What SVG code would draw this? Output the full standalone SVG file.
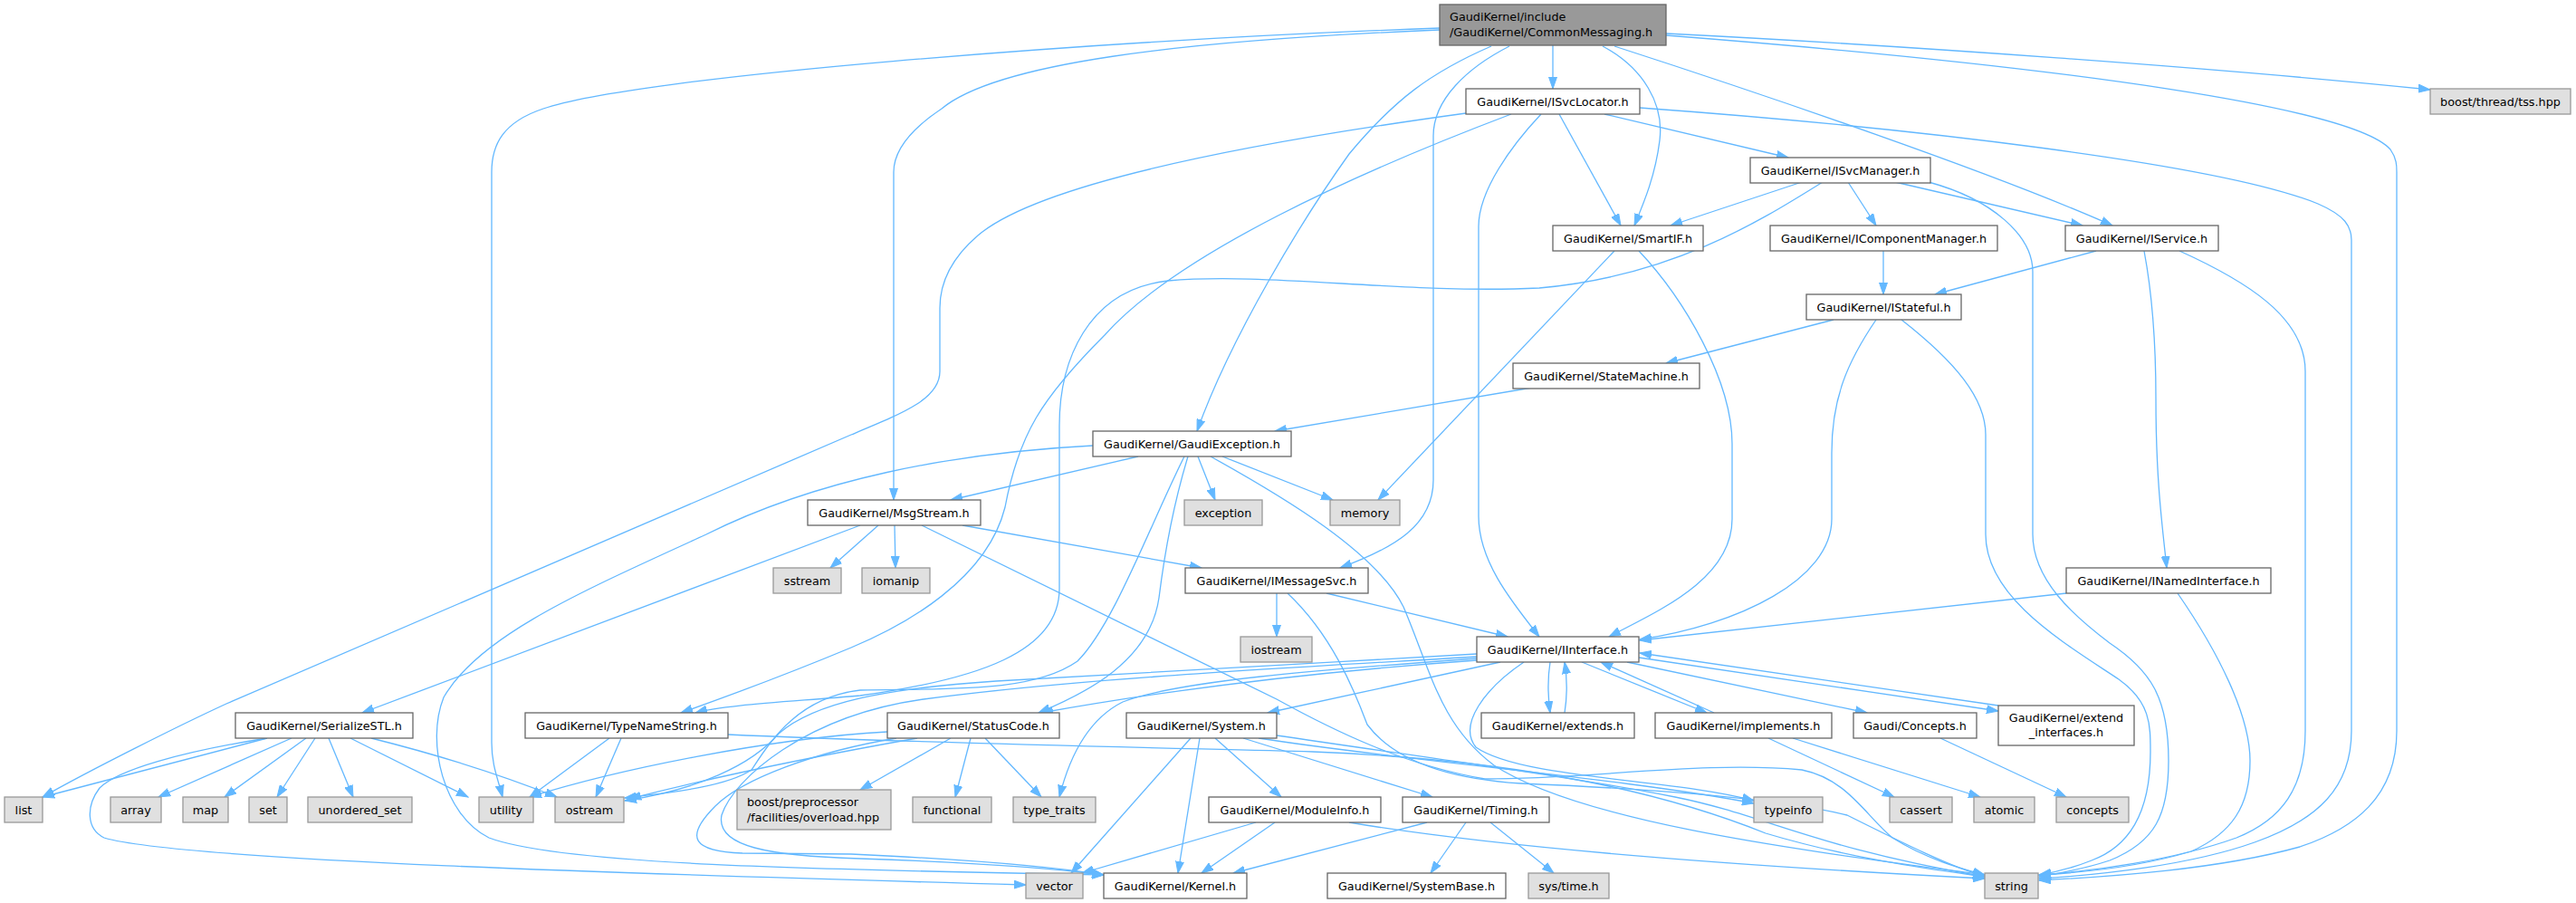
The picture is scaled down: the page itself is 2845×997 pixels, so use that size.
<svg xmlns="http://www.w3.org/2000/svg" width="2845" height="997" viewBox="0 0 2845 997">
<style>
.n rect{fill:#fff;stroke:#666;stroke-width:1.3}
.x rect{fill:#e0e0e0;stroke:#999;stroke-width:1.3}
.r rect{fill:#999;stroke:#666;stroke-width:1.3}
text{font-family:"DejaVu Sans","Liberation Sans",sans-serif;font-size:12.8px;fill:#000;text-anchor:middle}
.l{text-anchor:start}
#edges path{fill:none;stroke:#63b8ff;stroke-width:1.3;marker-end:url(#a)}
</style>
<defs>
<marker id="a" markerUnits="userSpaceOnUse" markerWidth="14" markerHeight="10" viewBox="0 0 14 10" refX="13" refY="5" orient="auto">
<path d="M0,0.5 L13,5 L0,9.5 z" fill="#63b8ff" stroke="#63b8ff"/>
</marker>
</defs>
<rect width="2845" height="997" fill="#fff"/>
<g id="edges">
<path d="M1715,50 L1715,98"/>
<path d="M1770,51 C1815,75 1838,115 1833,155 C1828,195 1815,225 1805,249"/>
<path d="M1783,51 C1950,105 2200,190 2333,249"/>
<path d="M1840,37 C2100,50 2450,75 2684,99"/>
<path d="M1840,39 C2300,75 2600,120 2640,165 C2647,175 2647,183 2647,190 L2647,807 C2647,880 2600,915 2540,935 C2450,960 2330,968 2252,972"/>
<path d="M1590,31 C1200,45 700,85 600,120 C555,135 543,160 543,190 L543,820 C543,845 550,860 555,880"/>
<path d="M1590,33 C1300,45 1100,70 1040,120 C995,150 987,175 987,190 L987,552"/>
<path d="M1647,51 C1580,80 1540,110 1490,170 C1440,240 1360,370 1322,476"/>
<path d="M1667,51 C1620,75 1583,110 1583,150 L1583,530 C1583,580 1540,605 1480,627"/>
<path d="M1722,126 L1790,249"/>
<path d="M1772,126 L1975,174"/>
<path d="M1811,119 C2100,140 2450,180 2560,225 C2590,238 2597,250 2597,265 L2597,807 C2597,870 2560,905 2490,930 C2420,955 2320,966 2252,970"/>
<path d="M1702,126 C1670,160 1633,210 1633,250 L1633,570 C1633,620 1670,665 1700,703"/>
<path d="M1619,125 C1400,155 1150,200 1080,260 C1045,290 1038,320 1038,340 L1038,410 C1038,440 1000,455 940,480 L250,777 C200,800 100,850 47,880"/>
<path d="M1669,126 C1500,190 1300,280 1220,370 C1150,440 1125,480 1110,560 C1090,640 1000,690 940,715 C880,740 800,770 752,787"/>
<path d="M1990,201 L1845,249"/>
<path d="M2013,201 C1950,240 1850,305 1700,318 C1550,325 1400,300 1290,310 C1200,320 1170,400 1170,470 L1170,650 C1170,720 1080,750 950,768 C870,775 800,778 768,787"/>
<path d="M2041,201 L2072,249"/>
<path d="M2093,201 L2300,249"/>
<path d="M2130,201 C2200,220 2245,260 2245,300 L2245,590 C2245,640 2290,680 2330,710 C2375,740 2395,770 2395,840 C2395,900 2380,930 2330,950 C2300,960 2270,965 2252,968"/>
<path d="M2315,277 L2137,325"/>
<path d="M2368,277 C2378,330 2381,380 2381,440 C2381,530 2388,580 2393,627"/>
<path d="M2407,277 C2480,310 2546,350 2546,410 L2546,807 C2546,870 2520,905 2470,925 C2400,950 2310,962 2252,966"/>
<path d="M2080,277 L2080,325"/>
<path d="M2025,353 L1840,401"/>
<path d="M2072,353 C2040,400 2023,440 2023,500 L2023,573 C2023,640 1920,690 1811,706"/>
<path d="M2100,353 C2160,400 2193,440 2193,480 L2193,590 C2193,660 2280,710 2340,750 C2375,775 2375,800 2375,830 C2375,900 2350,935 2310,950 C2290,958 2270,963 2252,966"/>
<path d="M1692,428 L1408,476"/>
<path d="M1783,277 L1522,552"/>
<path d="M1810,277 C1860,330 1913,420 1913,490 L1913,573 C1913,640 1830,675 1777,703"/>
<path d="M1257,504 L1050,552"/>
<path d="M1323,504 L1342,552"/>
<path d="M1350,504 L1472,552"/>
<path d="M1337,504 C1420,550 1520,610 1550,670 C1580,740 1590,800 1650,845 C1750,910 2000,940 2192,966"/>
<path d="M1312,504 C1295,560 1285,620 1280,660 C1270,730 1200,765 1147,787"/>
<path d="M1308,504 C1270,580 1230,690 1190,730 C1140,765 1050,760 950,762 C880,770 850,820 830,850 C800,870 730,876 690,881"/>
<path d="M1207,492 C1050,500 900,530 780,590 C650,650 530,700 490,770 C470,820 490,900 540,925 C620,955 900,960 1219,966"/>
<path d="M950,580 L400,787"/>
<path d="M970,580 L917,627"/>
<path d="M988,580 L989,627"/>
<path d="M1063,580 L1327,627"/>
<path d="M1018,580 L1410,772 C1470,805 1550,845 1640,860 C1760,860 1880,840 1990,850 C2040,860 2060,900 2090,925 C2130,950 2170,960 2192,966"/>
<path d="M1410,655 L1410,703"/>
<path d="M1465,655 L1665,703"/>
<path d="M1422,655 C1470,700 1495,760 1510,800 C1540,840 1600,860 1680,865 C1800,870 1960,880 2040,900 C2100,930 2160,960 2192,967"/>
<path d="M2282,655 L1811,707"/>
<path d="M2405,655 C2450,720 2485,790 2485,840 C2485,890 2465,920 2420,940 C2360,958 2290,964 2252,966"/>
<path d="M1712,731 C1709,750 1709,765 1712,787"/>
<path d="M1728,787 C1731,768 1731,750 1728,731"/>
<path d="M1747,731 L1885,787"/>
<path d="M1893,787 L1768,731"/>
<path d="M1797,731 L2062,787"/>
<path d="M1810,726 L2207,785"/>
<path d="M2207,779 L1811,721"/>
<path d="M1657,731 L1400,787"/>
<path d="M1631,729 C1450,742 1300,760 1150,787"/>
<path d="M1631,727 C1450,740 1300,752 1240,775 C1200,795 1180,840 1170,880"/>
<path d="M1631,722 C1450,733 1250,742 1100,752 C980,760 900,775 860,810 C830,845 770,872 690,884"/>
<path d="M1683,731 C1640,760 1610,800 1630,825 C1680,860 1850,860 1937,884"/>
<path d="M1631,725 C1450,736 1200,748 1020,772 C890,790 810,860 797,900 C790,935 850,945 950,948 C1070,952 1160,958 1219,966"/>
<path d="M1315,815 L1183,964"/>
<path d="M1325,815 L1301,964"/>
<path d="M1342,815 L1415,880"/>
<path d="M1373,815 L1582,880"/>
<path d="M1390,815 C1550,840 1800,860 1937,887"/>
<path d="M1410,812 C1600,840 1750,860 1850,880 C1950,900 2000,935 2192,968"/>
<path d="M1387,908 L1195,964"/>
<path d="M1408,908 L1327,964"/>
<path d="M1490,908 C1650,935 1900,955 2192,970"/>
<path d="M1576,908 L1362,964"/>
<path d="M1619,908 L1580,964"/>
<path d="M1646,908 L1716,964"/>
<path d="M1050,815 L950,872"/>
<path d="M1072,815 L1055,880"/>
<path d="M1088,815 L1150,880"/>
<path d="M980,808 C850,815 680,850 585,880"/>
<path d="M1013,815 C900,835 780,860 695,882"/>
<path d="M990,815 C900,830 820,860 790,890 C755,925 765,940 820,942 L940,943 C1050,948 1150,955 1219,966"/>
<path d="M673,815 L585,880"/>
<path d="M686,815 L658,880"/>
<path d="M804,811 C1000,820 1300,826 1450,830 C1700,840 1850,880 1950,920 C2050,950 2150,962 2192,968"/>
<path d="M295,815 L47,880"/>
<path d="M322,815 L175,880"/>
<path d="M338,815 L248,880"/>
<path d="M348,815 L306,880"/>
<path d="M363,815 L390,880"/>
<path d="M387,815 L517,880"/>
<path d="M410,815 C470,830 540,850 615,880"/>
<path d="M295,815 C200,830 130,850 110,870 C95,890 95,915 115,925 C200,950 700,965 1133,977"/>
<path d="M1953,815 L2092,880"/>
<path d="M1980,815 L2187,880"/>
<path d="M2143,815 L2282,880"/>
</g>
<g id="root" class="r"><rect x="1590" y="5" width="250" height="45"/><text class="l" x="1601" y="23">GaudiKernel/include</text><text class="l" x="1601" y="40">/GaudiKernel/CommonMessaging.h</text></g>
<g id="ISvcLocator" class="n"><rect x="1619" y="98" width="192" height="28"/><text x="1715" y="116.5">GaudiKernel/ISvcLocator.h</text></g>
<g id="SmartIF" class="n"><rect x="1715" y="249" width="166" height="28"/><text x="1798" y="267.5">GaudiKernel/SmartIF.h</text></g>
<g id="ISvcManager" class="n"><rect x="1933" y="174" width="199" height="28"/><text x="2032.5" y="192.5">GaudiKernel/ISvcManager.h</text></g>
<g id="IComponentManager" class="n"><rect x="1955" y="249" width="251" height="28"/><text x="2080.5" y="267.5">GaudiKernel/IComponentManager.h</text></g>
<g id="IService" class="n"><rect x="2281" y="249" width="169" height="28"/><text x="2365.5" y="267.5">GaudiKernel/IService.h</text></g>
<g id="tss" class="x"><rect x="2684" y="98" width="155" height="28"/><text x="2761.5" y="116.5">boost/thread/tss.hpp</text></g>
<g id="IStateful" class="n"><rect x="1995" y="325" width="171" height="28"/><text x="2080.5" y="343.5">GaudiKernel/IStateful.h</text></g>
<g id="StateMachine" class="n"><rect x="1671" y="401" width="206" height="28"/><text x="1774" y="419.5">GaudiKernel/StateMachine.h</text></g>
<g id="GaudiException" class="n"><rect x="1207" y="476" width="219" height="28"/><text x="1316.5" y="494.5">GaudiKernel/GaudiException.h</text></g>
<g id="MsgStream" class="n"><rect x="892" y="552" width="191" height="28"/><text x="987.5" y="570.5">GaudiKernel/MsgStream.h</text></g>
<g id="exception" class="x"><rect x="1308" y="552" width="86" height="28"/><text x="1351" y="570.5">exception</text></g>
<g id="memory" class="x"><rect x="1469" y="552" width="77" height="28"/><text x="1507.5" y="570.5">memory</text></g>
<g id="sstream" class="x"><rect x="854" y="627" width="75" height="28"/><text x="891.5" y="645.5">sstream</text></g>
<g id="iomanip" class="x"><rect x="952" y="627" width="75" height="28"/><text x="989.5" y="645.5">iomanip</text></g>
<g id="IMessageSvc" class="n"><rect x="1309" y="627" width="202" height="28"/><text x="1410" y="645.5">GaudiKernel/IMessageSvc.h</text></g>
<g id="INamedInterface" class="n"><rect x="2282" y="627" width="226" height="28"/><text x="2395" y="645.5">GaudiKernel/INamedInterface.h</text></g>
<g id="iostream" class="x"><rect x="1370" y="703" width="79" height="28"/><text x="1409.5" y="721.5">iostream</text></g>
<g id="IInterface" class="n"><rect x="1631" y="703" width="179" height="28"/><text x="1720.5" y="721.5">GaudiKernel/IInterface.h</text></g>
<g id="SerializeSTL" class="n"><rect x="260" y="787" width="196" height="28"/><text x="358" y="805.5">GaudiKernel/SerializeSTL.h</text></g>
<g id="TypeNameString" class="n"><rect x="580" y="787" width="224" height="28"/><text x="692" y="805.5">GaudiKernel/TypeNameString.h</text></g>
<g id="StatusCode" class="n"><rect x="980" y="787" width="190" height="28"/><text x="1075" y="805.5">GaudiKernel/StatusCode.h</text></g>
<g id="System" class="n"><rect x="1244" y="787" width="166" height="28"/><text x="1327" y="805.5">GaudiKernel/System.h</text></g>
<g id="extends" class="n"><rect x="1636" y="787" width="169" height="28"/><text x="1720.5" y="805.5">GaudiKernel/extends.h</text></g>
<g id="implements" class="n"><rect x="1828" y="787" width="195" height="28"/><text x="1925.5" y="805.5">GaudiKernel/implements.h</text></g>
<g id="Concepts" class="n"><rect x="2047" y="787" width="136" height="28"/><text x="2115" y="805.5">Gaudi/Concepts.h</text></g>
<g id="extend_interfaces" class="n"><rect x="2207" y="779" width="150" height="44"/><text x="2282" y="797">GaudiKernel/extend</text><text x="2282" y="813">_interfaces.h</text></g>
<g id="list" class="x"><rect x="5" y="880" width="42" height="28"/><text x="26" y="898.5">list</text></g>
<g id="array" class="x"><rect x="122" y="880" width="56" height="28"/><text x="150" y="898.5">array</text></g>
<g id="map" class="x"><rect x="202" y="880" width="50" height="28"/><text x="227" y="898.5">map</text></g>
<g id="set" class="x"><rect x="275" y="880" width="42" height="28"/><text x="296" y="898.5">set</text></g>
<g id="unordered_set" class="x"><rect x="340" y="880" width="115" height="28"/><text x="397.5" y="898.5">unordered_set</text></g>
<g id="utility" class="x"><rect x="529" y="880" width="60" height="28"/><text x="559" y="898.5">utility</text></g>
<g id="ostream" class="x"><rect x="613" y="880" width="76" height="28"/><text x="651" y="898.5">ostream</text></g>
<g id="boostpp" class="x"><rect x="814" y="872" width="170" height="44"/><text class="l" x="825" y="890">boost/preprocessor</text><text class="l" x="825" y="907">/facilities/overload.hpp</text></g>
<g id="functional" class="x"><rect x="1008" y="880" width="87" height="28"/><text x="1051.5" y="898.5">functional</text></g>
<g id="type_traits" class="x"><rect x="1119" y="880" width="91" height="28"/><text x="1164.5" y="898.5">type_traits</text></g>
<g id="ModuleInfo" class="n"><rect x="1335" y="880" width="190" height="28"/><text x="1430" y="898.5">GaudiKernel/ModuleInfo.h</text></g>
<g id="Timing" class="n"><rect x="1549" y="880" width="162" height="28"/><text x="1630" y="898.5">GaudiKernel/Timing.h</text></g>
<g id="typeinfo" class="x"><rect x="1937" y="880" width="76" height="28"/><text x="1975" y="898.5">typeinfo</text></g>
<g id="cassert" class="x"><rect x="2087" y="880" width="69" height="28"/><text x="2121.5" y="898.5">cassert</text></g>
<g id="atomic" class="x"><rect x="2180" y="880" width="67" height="28"/><text x="2213.5" y="898.5">atomic</text></g>
<g id="concepts" class="x"><rect x="2271" y="880" width="80" height="28"/><text x="2311" y="898.5">concepts</text></g>
<g id="vector" class="x"><rect x="1133" y="964" width="63" height="28"/><text x="1164.5" y="982.5">vector</text></g>
<g id="Kernel" class="n"><rect x="1219" y="964" width="158" height="28"/><text x="1298" y="982.5">GaudiKernel/Kernel.h</text></g>
<g id="SystemBase" class="n"><rect x="1466" y="964" width="197" height="28"/><text x="1564.5" y="982.5">GaudiKernel/SystemBase.h</text></g>
<g id="systime" class="x"><rect x="1688" y="964" width="89" height="28"/><text x="1732.5" y="982.5">sys/time.h</text></g>
<g id="string" class="x"><rect x="2192" y="964" width="59" height="28"/><text x="2221.5" y="982.5">string</text></g>
</svg>
